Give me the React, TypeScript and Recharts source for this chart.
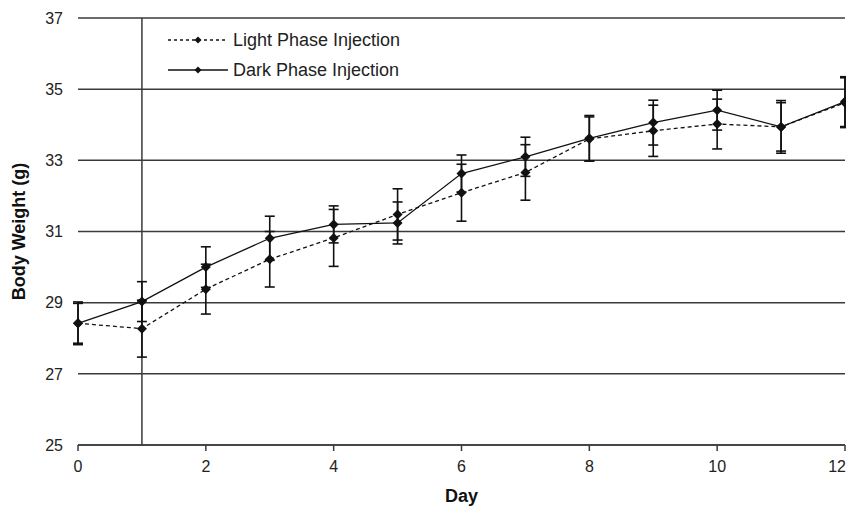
import {
  ComposedChart,
  Line,
  XAxis,
  YAxis,
  CartesianGrid,
  ErrorBar,
  ReferenceLine,
} from "recharts";

const days = [0, 1, 2, 3, 4, 5, 6, 7, 8, 9, 10, 11, 12];
const lightPhase = [28.42, 28.27, 29.38, 30.22, 30.82, 31.48, 32.09, 32.66, 33.6, 33.83, 34.02, 33.94, 34.62];
const lightPhaseErr = [0.6, 0.8, 0.7, 0.78, 0.8, 0.72, 0.8, 0.78, 0.62, 0.72, 0.7, 0.74, 0.7];
const darkPhase = [28.42, 29.03, 30.0, 30.81, 31.2, 31.24, 32.63, 33.1, 33.62, 34.06, 34.41, 33.94, 34.65];
const darkPhaseErr = [0.56, 0.56, 0.57, 0.62, 0.52, 0.59, 0.52, 0.55, 0.64, 0.63, 0.56, 0.68, 0.7];
const xTicks = [0, 2, 4, 6, 8, 10, 12];
const yTicks = [25, 27, 29, 31, 33, 35, 37];

const data = days.map((d, i) => ({
  day: d,
  light: lightPhase[i],
  lightErr: lightPhaseErr[i],
  dark: darkPhase[i],
  darkErr: darkPhaseErr[i],
}));

const FONT = "'Liberation Sans', Arial, sans-serif";
const INK = "#111";
const GRID = "#3a3a3a";

const Diamond = (props: any) => {
  const { cx, cy } = props;
  if (cx == null || cy == null) return null;
  const r = 5;
  return (
    <polygon
      points={`${cx},${cy - r} ${cx + r},${cy} ${cx},${cy + r} ${cx - r},${cy}`}
      fill={INK}
    />
  );
};

// last label would be clipped at the right edge, so pull it in a bit
const DayTick = (props: any) => {
  const { x, y, payload } = props;
  const last = payload.value === xTicks[xTicks.length - 1];
  return (
    <text
      x={last ? x + 1 : x}
      y={y + 12}
      textAnchor={last ? "end" : "middle"}
      fontFamily={FONT}
      fontSize={16}
      fill="#222"
    >
      {String(payload.value)}
    </text>
  );
};

const legendItems = [
  { label: "Light Phase Injection", dash: "3 3" },
  { label: "Dark Phase Injection", dash: undefined },
];

const LegendBox = () => (
  <div
    style={{
      position: "absolute",
      left: 160,
      top: 17,
      fontFamily: FONT,
      fontSize: 18,
      color: "#222",
      background: "#fff",
    }}
  >
    {legendItems.map((it) => (
      <div key={it.label} style={{ display: "flex", alignItems: "center", height: 30 }}>
        <svg width={62} height={12} style={{ marginRight: 3 }}>
          <line x1={0} y1={6} x2={60} y2={6} stroke={INK} strokeWidth={1.3} strokeDasharray={it.dash} />
          <polygon points="30,2.5 33.5,6 30,9.5 26.5,6" fill={INK} />
        </svg>
        <span>{it.label}</span>
      </div>
    ))}
  </div>
);

const App = () => {
  return (
    <div style={{ position: "relative", width: 846, height: 500 }}>
      <style>{"body{overflow:hidden} .recharts-surface{overflow:visible}"}</style>
      <ComposedChart
        width={846}
        height={500}
        data={data}
        margin={{ top: 10, right: 9, bottom: 0, left: 0 }}
      >
        <CartesianGrid vertical={false} stroke={GRID} strokeWidth={1.5} />
        <XAxis
          dataKey="day"
          type="number"
          domain={[0, 12]}
          ticks={xTicks}
          interval={0}
          height={63}
          axisLine={{ stroke: GRID, strokeWidth: 1.5 }}
          tickLine={{ stroke: GRID, strokeWidth: 1.5 }}
          tickSize={6}
          tickMargin={9}
          tick={<DayTick />}
          label={(p: any) => {
            const vb = p.viewBox;
            return (
              <text
                x={vb.x + vb.width / 2}
                y={489}
                textAnchor="middle"
                dominantBaseline="middle"
                fontFamily={FONT}
                fontSize={18}
                fontWeight="bold"
                fill={INK}
              >
                Day
              </text>
            );
          }}
        />
        <YAxis
          type="number"
          domain={[25, 37]}
          ticks={yTicks}
          width={70}
          axisLine={false}
          tickLine={false}
          tickSize={6}
          tickMargin={9}
          tick={{ fontFamily: FONT, fontSize: 16, fill: "#222" }}
          label={(p: any) => {
            const vb = p.viewBox;
            const cy = vb.y + vb.height / 2;
            return (
              <text
                x={12}
                y={cy}
                transform={`rotate(-90, 12, ${cy})`}
                textAnchor="middle"
                dominantBaseline="middle"
                fontFamily={FONT}
                fontSize={18}
                fontWeight="bold"
                fill={INK}
              >
                Body Weight (g)
              </text>
            );
          }}
        />
        <ReferenceLine x={1} stroke={GRID} strokeWidth={1.5} />
        <Line
          dataKey="light"
          name="Light Phase Injection"
          stroke={INK}
          strokeWidth={1.3}
          strokeDasharray="4 3"
          dot={<Diamond />}
          activeDot={false}
          isAnimationActive={false}
        >
          <ErrorBar dataKey="lightErr" width={5} stroke={INK} strokeWidth={1.6} direction="y" />
        </Line>
        <Line
          dataKey="dark"
          name="Dark Phase Injection"
          stroke={INK}
          strokeWidth={1.3}
          dot={<Diamond />}
          activeDot={false}
          isAnimationActive={false}
        >
          <ErrorBar dataKey="darkErr" width={5} stroke={INK} strokeWidth={1.6} direction="y" />
        </Line>
      </ComposedChart>
      <LegendBox />
    </div>
  );
};

export default App;
